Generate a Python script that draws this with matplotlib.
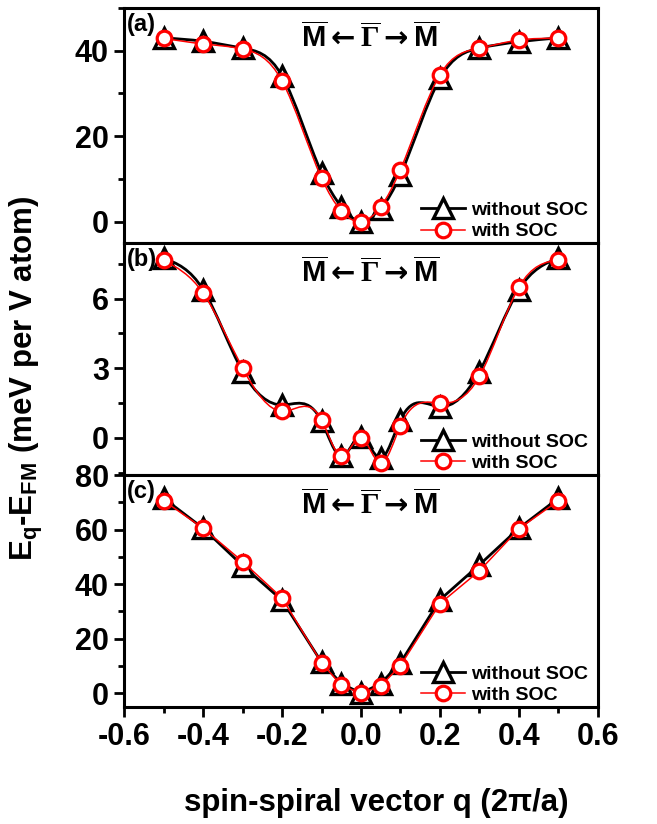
import numpy as np
import matplotlib
matplotlib.use("Agg")
import matplotlib.pyplot as plt
from matplotlib.path import Path
from matplotlib.patches import PathPatch
from matplotlib.lines import Line2D
from matplotlib.ticker import MultipleLocator

plt.rcParams['font.family'] = ['Liberation Sans', 'DejaVu Sans']
plt.rcParams['font.weight'] = 'bold'
plt.rcParams['axes.unicode_minus'] = False
plt.rcParams['mathtext.fontset'] = 'custom'
plt.rcParams['mathtext.rm'] = 'Liberation Sans:bold'
plt.rcParams['mathtext.bf'] = 'Liberation Sans:bold'
plt.rcParams['mathtext.it'] = 'Liberation Sans:bold:italic'
plt.rcParams['mathtext.sf'] = 'Liberation Serif'
plt.rcParams['mathtext.cal'] = 'DejaVu Sans'

# spin-spiral vector q (2pi/a)
q = [-0.5, -0.4, -0.3, -0.2, -0.1, -0.05, 0.0, 0.05, 0.1, 0.2, 0.3, 0.4, 0.5]

# panel (a)
a_nosoc = [43.0, 42.2, 40.6, 34.1, 11.4, 3.5, 0.0, 2.9, 11.0, 33.5, 40.6, 42.1, 43.0]
a_soc = [42.9, 41.6, 40.4, 32.9, 10.2, 2.5, 0.0, 3.5, 12.2, 34.4, 40.6, 42.5, 42.9]
# panel (b)
b_nosoc = [7.75, 6.39, 2.86, 1.42, 0.72, -0.80, 0.06, -0.88, 0.78, 1.35, 2.86, 6.39, 7.75]
b_soc = [7.65, 6.24, 3.01, 1.14, 0.78, -0.78, 0.0, -1.09, 0.53, 1.50, 2.65, 6.50, 7.68]
# panel (c)
c_nosoc = [71.5, 60.5, 46.8, 34.1, 11.4, 3.6, 0.0, 3.6, 11.2, 34.3, 47.1, 60.5, 71.5]
c_soc = [70.6, 60.5, 48.3, 34.9, 11.2, 2.9, 0.0, 2.7, 10.2, 32.9, 44.9, 60.3, 70.6]

panels = ['(a)', '(b)', '(c)']
ylims = [(-5, 50), (-1.6, 8.4), (-5, 80)]
ymajor = [20, 3, 20]


def spline_path(x, y):
    # natural cubic spline drawn as bezier segments
    x = np.asarray(x, float)
    y = np.asarray(y, float)
    n = len(x)
    h = np.diff(x)
    A = np.zeros((n, n))
    r = np.zeros(n)
    A[0, 0] = 1
    A[-1, -1] = 1
    for i in range(1, n - 1):
        A[i, i - 1] = h[i - 1]
        A[i, i] = 2 * (h[i - 1] + h[i])
        A[i, i + 1] = h[i]
        r[i] = 6 * ((y[i + 1] - y[i]) / h[i] - (y[i] - y[i - 1]) / h[i - 1])
    M = np.linalg.solve(A, r)
    d = np.zeros(n)
    for i in range(n - 1):
        d[i] = (y[i + 1] - y[i]) / h[i] - h[i] * (2 * M[i] + M[i + 1]) / 6
    d[-1] = (y[-1] - y[-2]) / h[-1] + h[-1] * (M[-2] + 2 * M[-1]) / 6
    verts = [(x[0], y[0])]
    codes = [Path.MOVETO]
    for i in range(n - 1):
        verts += [(x[i] + h[i] / 3, y[i] + h[i] * d[i] / 3),
                  (x[i + 1] - h[i] / 3, y[i + 1] - h[i] * d[i + 1] / 3),
                  (x[i + 1], y[i + 1])]
        codes += [Path.CURVE4] * 3
    return Path(verts, codes)


fig = plt.figure(figsize=(6.57, 8.24), dpi=100)
left, width = 0.189, 0.721
bottoms = [0.7051, 0.4235, 0.142]
tops = [0.9903, 0.7051, 0.4235]

tri_style = dict(color='black', marker='^', markersize=15, markerfacecolor='white',
                 markeredgecolor='black', markeredgewidth=2.4, lw=2.0)
circ_style = dict(color='red', marker='o', markersize=10.5, markerfacecolor='white',
                  markeredgecolor='red', markeredgewidth=2.3, lw=1.1)

data = [(a_nosoc, a_soc), (b_nosoc, b_soc), (c_nosoc, c_soc)]
title = (r'$\overline{\mathbf{M}}\mathcal{\leftarrow}\overline{\mathsf{\Gamma}}'
         r'\mathcal{\rightarrow}\overline{\mathbf{M}}$')

for k in range(3):
    ax = fig.add_axes([left, bottoms[k], width, tops[k] - bottoms[k]])
    y1, y2 = data[k]
    if k < 2:
        ax.add_patch(PathPatch(spline_path(q, y1), fill=False, edgecolor='black', lw=2.0, zorder=2))
        ax.plot(q, y1, ls='none', **{kk: v for kk, v in tri_style.items() if kk != 'lw'}, zorder=3)
        ax.add_patch(PathPatch(spline_path(q, y2), fill=False, edgecolor='red', lw=1.1, zorder=4))
        ax.plot(q, y2, ls='none', **{kk: v for kk, v in circ_style.items() if kk != 'lw'}, zorder=5)
    else:
        ax.plot(q, y1, zorder=3, **tri_style)
        ax.plot(q, y2, zorder=5, **circ_style)

    ax.set_xlim(-0.6, 0.6)
    ax.set_ylim(*ylims[k])
    ax.xaxis.set_major_locator(MultipleLocator(0.2))
    ax.xaxis.set_minor_locator(MultipleLocator(0.1))
    ax.yaxis.set_major_locator(MultipleLocator(ymajor[k]))
    ax.yaxis.set_minor_locator(MultipleLocator(ymajor[k] / 2))
    ax.tick_params(which='both', direction='out', width=2, labelsize=22, pad=4)
    ax.tick_params(which='major', length=7)
    ax.tick_params(which='minor', length=4)
    for s in ax.spines.values():
        s.set_linewidth(2.2)
    if k < 2:
        ax.tick_params(axis='x', which='both', bottom=False, labelbottom=False)

    ax.text(0.005, 0.93, panels[k], transform=ax.transAxes, fontsize=17,
            fontweight='bold', va='center', ha='left')
    ax.text(0.52, 0.87, title, transform=ax.transAxes, fontsize=21,
            va='center', ha='center')

    handles = [Line2D([], [], **tri_style), Line2D([], [], **circ_style)]
    ax.legend(handles, ['without SOC', 'with SOC'], loc='lower right', frameon=False,
              fontsize=14, handlelength=2.3, handletextpad=0.3, labelspacing=0.2,
              borderaxespad=0.1, bbox_to_anchor=(1.0, -0.03))

fig.text(0.040, 0.541, r'E$_{\mathbf{q}}$-E$_{\mathbf{FM}}$ (meV per V atom)', rotation=90,
         fontsize=22.5, fontweight='bold', ha='center', va='center')
fig.text(0.572, 0.025, 'spin-spiral vector q (2π/a)', fontsize=22.5, fontweight='bold',
         ha='center', va='center')

fig.savefig('out.png', dpi=100)
